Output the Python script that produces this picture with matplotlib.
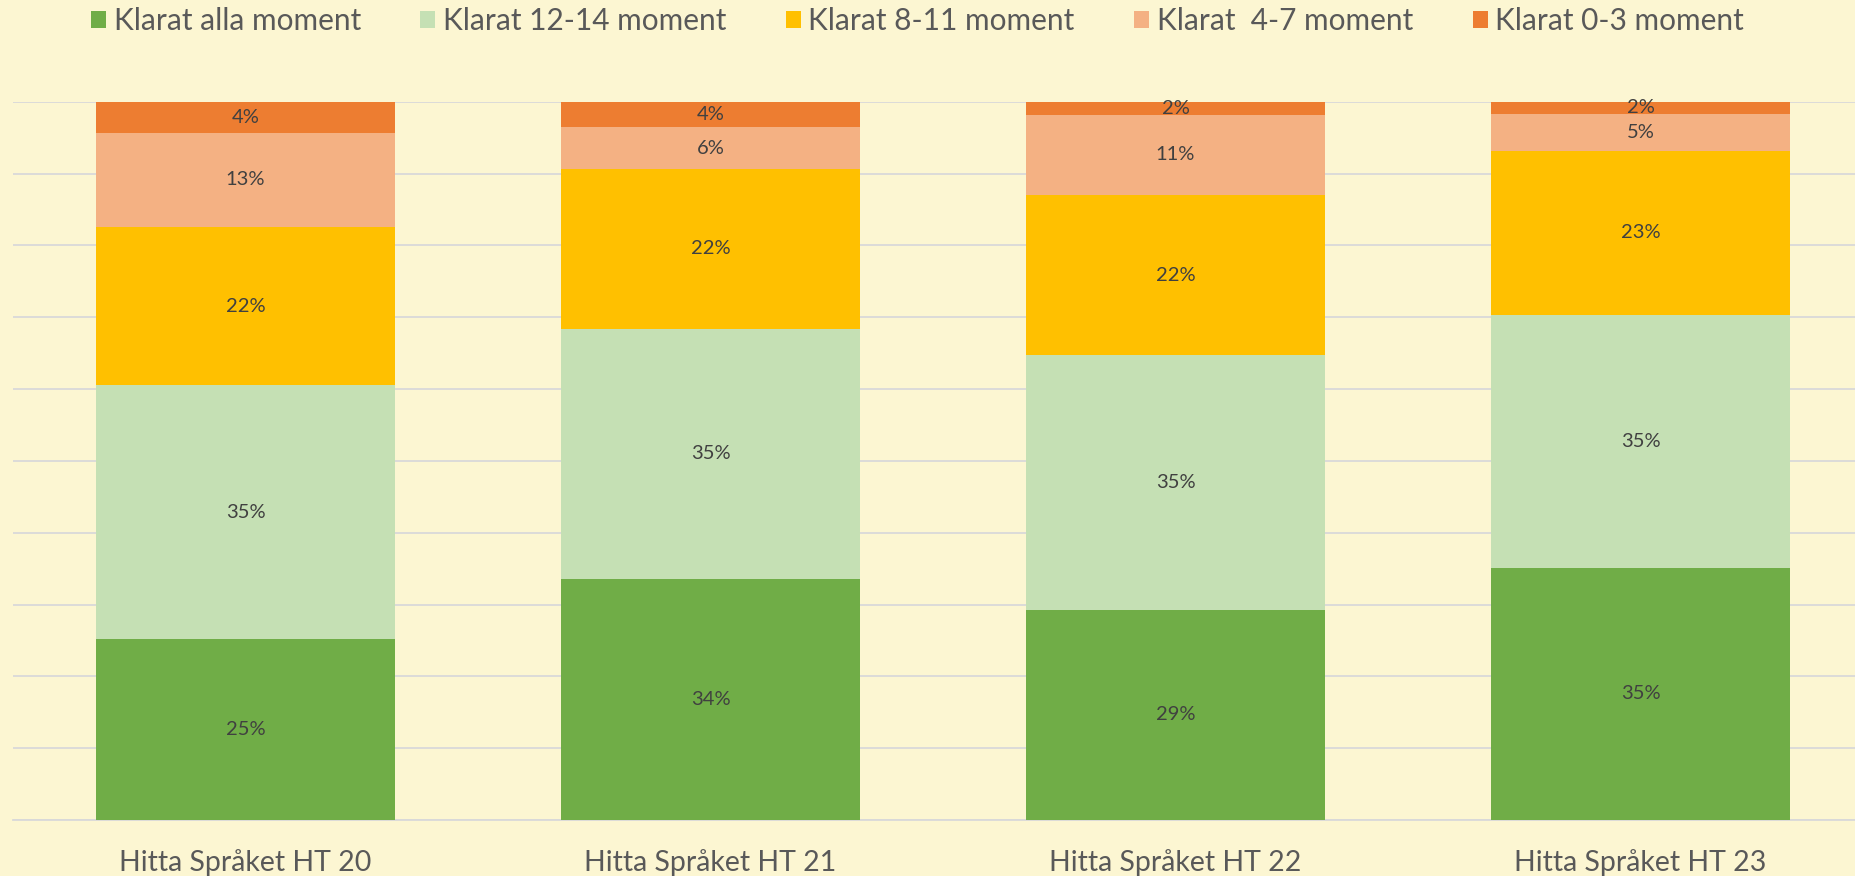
import numpy as np
import matplotlib.pyplot as plt
from matplotlib.patches import Patch

# data (percent of pupils)
categories = ["Hitta Språket HT 20", "Hitta Språket HT 21", "Hitta Språket HT 22", "Hitta Språket HT 23"]
series_names = ["Klarat alla moment", "Klarat 12-14 moment", "Klarat 8-11 moment",
                "Klarat  4-7 moment", "Klarat 0-3 moment"]
alla = [25.2, 33.6, 29.3, 35.1]
m12_14 = [35.3, 34.8, 35.4, 35.2]
m8_11 = [22.0, 22.2, 22.3, 22.9]
m4_7 = [13.2, 5.9, 11.2, 5.1]
m0_3 = [4.3, 3.5, 1.8, 1.7]

colors = ["#70AD47", "#C5E0B4", "#FFC000", "#F4B183", "#ED7D31"]
bg = "#FCF6D2"

plt.rcParams['font.family'] = ['Lato', 'DejaVu Sans']

fig = plt.figure(figsize=(18.55, 8.76), dpi=100, facecolor=bg)
ax = fig.add_axes([13/1855, 56/876, 1860/1855, 718.3/876])
ax.set_facecolor(bg)

x = np.arange(len(categories))
bottom = np.zeros(len(categories))
for vals, col in zip([alla, m12_14, m8_11, m4_7, m0_3], colors):
    vals = np.array(vals)
    ax.bar(x, vals, 0.645, bottom=bottom, color=col, zorder=3)
    for xi, b, v in zip(x, bottom, vals):
        ax.text(xi, b + v / 2, f"{v:.0f}%", ha='center', va='center',
                fontsize=14.5, color='#404040', zorder=4)
    bottom += vals

ax.set_xlim(-0.5, 3.5)
ax.set_ylim(0, 100)
ax.set_yticks(np.arange(0, 101, 10))
ax.yaxis.grid(True, color='#D9D9D9', lw=1.3, zorder=0)
ax.tick_params(axis='y', left=False, labelleft=False)
ax.set_xticks(x)
ax.set_xticklabels(categories, fontsize=20.5, color='#595959')
ax.tick_params(axis='x', length=0, pad=21)
for s in ['top', 'left', 'right']:
    ax.spines[s].set_visible(False)
ax.spines['bottom'].set_color('#D9D9D9')
ax.spines['bottom'].set_linewidth(1.3)

handles = [Patch(facecolor=c, edgecolor='none') for c in colors]
fig.legend(handles, series_names, loc='center', bbox_to_anchor=(0.4946, 1 - 21/876),
           ncol=5, frameon=False, fontsize=21.5, labelcolor='#595959',
           handlelength=0.5, handleheight=0.5, handletextpad=0.25, columnspacing=2.0)

fig.savefig("out.png", dpi=100, facecolor=bg)
